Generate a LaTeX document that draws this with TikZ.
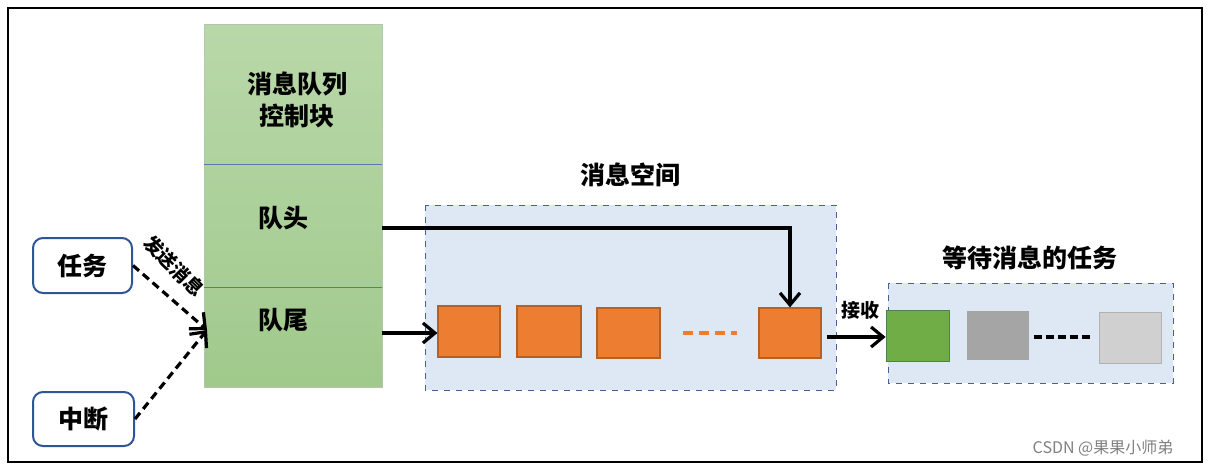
\documentclass[tikz,border=0pt]{standalone}
\usepackage{fontspec}
\setmainfont{Noto Sans CJK SC}
\usetikzlibrary{arrows.meta}
\definecolor{gA}{HTML}{B9D8A9}
\definecolor{gB}{HTML}{A0C98C}
\definecolor{spc}{HTML}{DEE8F4}
\definecolor{org}{HTML}{ED7D31}
\definecolor{orgd}{HTML}{B85F22}
\definecolor{bl}{HTML}{2F5597}
\tikzset{
 lbl/.style={font=\bfseries\fontsize{12.5}{16}\selectfont},
 sq/.style={draw=orgd,fill=org,line width=0.6pt},
 arr/.style={line width=1.6pt,-{Straight Barb[length=6pt,width=10pt]}},
 dsh/.style={line width=1.6pt,dash pattern=on 4pt off 2.5pt,-{Straight Barb[length=6pt,width=11pt]}},
 zone/.style={draw=bl!70!gray,dashed,fill=spc,line width=0.5pt},
 tbox/.style={draw=bl,line width=1pt,rounded corners=5pt,fill=white,font=\bfseries\fontsize{12.5}{16}\selectfont}
}
\begin{document}
\begin{tikzpicture}[x=0.5pt,y=-0.5pt]
\useasboundingbox (0,0) rectangle (1208,466);
\draw[line width=1.1pt] (8,8) rectangle (1202,462);
% control block
\shade[top color=gA,bottom color=gB] (204,24) rectangle (382,387);
\draw[gB!80!black!60,line width=0.5pt] (204,24) rectangle (382,387);
\draw[bl!80,line width=0.4pt] (204,164) -- (382,164) (204,287) -- (382,287);
\node[lbl,align=center] (cb) at (297,100) {消息队列\\控制块};
\node[lbl] (head) at (283,218) {队头};
\node[lbl] (tail) at (283,320) {队尾};
\coordinate (hs) at (382,228);
\coordinate (ts) at (382,333);
\coordinate (in) at (207,330);
% tasks
\node[tbox,minimum width=49.5pt,minimum height=27.5pt] (task) at (82.5,265.5) {任务};
\node[tbox,minimum width=50.5pt,minimum height=27pt] (irq) at (83.5,419) {中断};
\draw[dsh] (task.east) -- (in);
\draw[dsh] (irq.east) -- (in);
\node[font=\bfseries\fontsize{9.5}{10}\selectfont,rotate=-45,inner sep=0] (send) at (174,266) {发送消息};
% message space
\draw[zone] (425,205) rectangle (836,390);
\node[lbl] (ms) at (630,175) {消息空间};
\node[sq,minimum width=31pt,minimum height=25.5pt,inner sep=0] (m1) at (469,331.5) {};
\node[sq,minimum width=32pt,minimum height=25.5pt,inner sep=0] (m2) at (549,331.5) {};
\node[sq,minimum width=31.5pt,minimum height=25pt,inner sep=0] (m3) at (628.5,333) {};
\node[sq,minimum width=31pt,minimum height=25pt,inner sep=0] (m4) at (790,333) {};
\coordinate (od1) at (683,333); \coordinate (od2) at (737,333);
\draw[org,line width=1.8pt,dash pattern=on 5pt off 3pt] (od1) -- (od2);
\draw[arr] (hs) -| (m4.north);
\draw[arr] (ts) -- (m1.west |- ts);
% waiting
\draw[zone] (888,283) rectangle (1173,383);
\node[lbl] (wt) at (1030,258) {等待消息的任务};
\node[draw=green!30!black!70,minimum width=31.5pt,minimum height=25.5pt,inner sep=0,fill={rgb,255:red,112;green,173;blue,71}] (w1) at (917.5,335.5) {};
\node[fill={rgb,255:red,165;green,165;blue,165},minimum width=31pt,minimum height=24.5pt,inner sep=0] (w2) at (998,335.5) {};
\node[draw=gray!60,fill={rgb,255:red,208;green,208;blue,208},minimum width=31pt,minimum height=25.5pt,inner sep=0] (w3) at (1130,337.5) {};
\coordinate (wd1) at (1034,337); \coordinate (wd2) at (1090,337);
\draw[line width=1.6pt,dash pattern=on 4pt off 2pt] (wd1) -- (wd2);
\coordinate (rs) at (827,337);
\draw[arr] (rs) -- (w1.west |- rs);
\node[font=\bfseries\fontsize{9.5}{10}\selectfont] (recv) at (860,310) {接收};
\node[font=\fontsize{8}{10}\selectfont,text=gray] (wm) at (1103,448) {CSDN @果果小师弟};
\end{tikzpicture}
\end{document}
